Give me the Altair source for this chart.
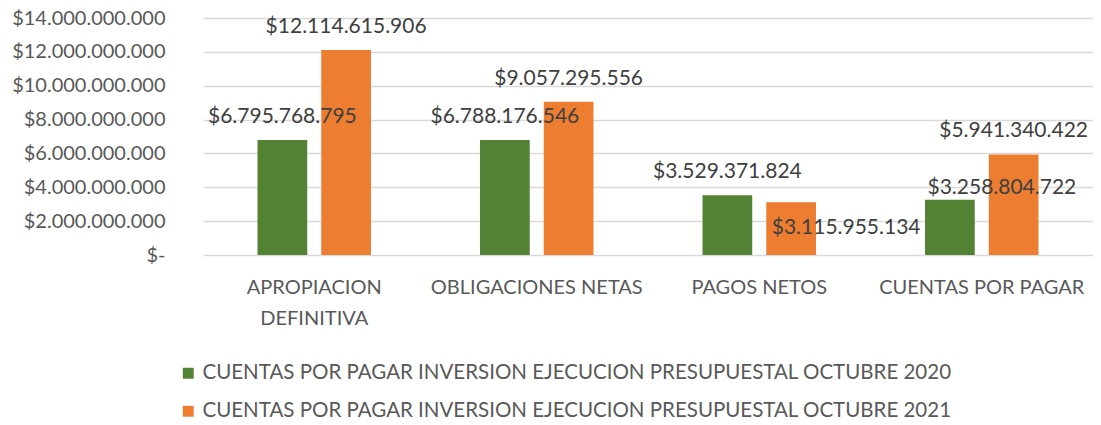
import altair as alt
import pandas as pd

categories = ["APROPIACION DEFINITIVA", "OBLIGACIONES NETAS", "PAGOS NETOS", "CUENTAS POR PAGAR"]
series = [
    "CUENTAS POR PAGAR INVERSION EJECUCION PRESUPUESTAL OCTUBRE 2020",
    "CUENTAS POR PAGAR INVERSION EJECUCION PRESUPUESTAL OCTUBRE 2021",
]
values_2020 = [6795768795, 6788176546, 3529371824, 3258804722]
values_2021 = [12114615906, 9057295556, 3115955134, 5941340422]
y_ticks = [0, 2e9, 4e9, 6e9, 8e9, 10e9, 12e9, 14e9]
colors = ["#548235", "#ED7D31"]


def fmt(v):
    return "$" + f"{v:,}".replace(",", ".")


rows = []
for ci, cat in enumerate(categories):
    for si, vals in enumerate([values_2020, values_2021]):
        rows.append({"cat": cat, "serie": series[si], "value": vals[ci],
                     "label": fmt(vals[ci]), "key": f"{ci}-{si}"})
df = pd.DataFrame(rows)

FONT = "Lato"
GREY = "#595959"

x_enc = alt.X(
    "cat:N", sort=categories,
    scale=alt.Scale(paddingInner=0.49, paddingOuter=0.245),
    axis=alt.Axis(title=None, labelAngle=0, domain=False, ticks=False, tickSize=0,
                  labelPadding=22, labelFont=FONT, labelFontSize=20, labelColor=GREY,
                  labelLineHeight=31, labelLimit=400,
                  labelExpr="datum.value == 'APROPIACION DEFINITIVA' ? ['APROPIACION', 'DEFINITIVA'] : datum.value"),
)
xoff_enc = alt.XOffset("serie:N", sort=series, scale=alt.Scale(paddingInner=0.22, paddingOuter=0))
y_enc = alt.Y(
    "value:Q",
    scale=alt.Scale(domain=[0, 14e9], nice=False),
    axis=alt.Axis(title=None, values=y_ticks, grid=True, gridColor="#D9D9D9", gridWidth=1.5,
                  domain=False, ticks=False, tickSize=0, labelPadding=38,
                  labelFont=FONT, labelFontSize=20, labelColor=GREY,
                  labelExpr="datum.value == 0 ? '$-' : '$' + replace(replace(replace(format(datum.value, ',d'), ',', '.'), ',', '.'), ',', '.')"),
)

base = alt.Chart(df)

bars = base.mark_bar().encode(
    x=x_enc, xOffset=xoff_enc, y=y_enc,
    color=alt.Color("serie:N", sort=series,
                    scale=alt.Scale(domain=series, range=colors),
                    legend=alt.Legend(title=None, orient="none", legendX=-25, legendY=345,
                                      direction="vertical", symbolType="square",
                                      symbolSize=120, symbolStrokeWidth=0,
                                      labelFont=FONT, labelFontSize=20.5, labelColor=GREY,
                                      labelLimit=1000, rowPadding=17, labelOffset=4)),
)

txt_kw = dict(font=FONT, fontSize=21, color="#404040", baseline="middle", align="center")

labels_main = base.mark_text(dy=-23, **txt_kw).encode(
    x=x_enc, xOffset=xoff_enc, y=y_enc, text="label:N"
).transform_filter("datum.key != '2-1' && datum.key != '3-0'")

label_pagos = base.mark_text(dx=55, dy=26, **txt_kw).encode(
    x=x_enc, xOffset=xoff_enc, y=y_enc, text="label:N"
).transform_filter("datum.key == '2-1'")

label_cxp = base.mark_text(dx=52, dy=-12, **txt_kw).encode(
    x=x_enc, xOffset=xoff_enc, y=y_enc, text="label:N"
).transform_filter("datum.key == '3-0'")

chart = alt.layer(bars, labels_main, label_pagos, label_cxp).properties(
    width=890, height=237,
    autosize=alt.AutoSizeParams(type="none"),
    padding={"left": 195, "top": 10, "right": 0, "bottom": 166},
).configure_view(stroke=None)

chart.save("out.html", embed_options={"renderer": "svg", "actions": False})
